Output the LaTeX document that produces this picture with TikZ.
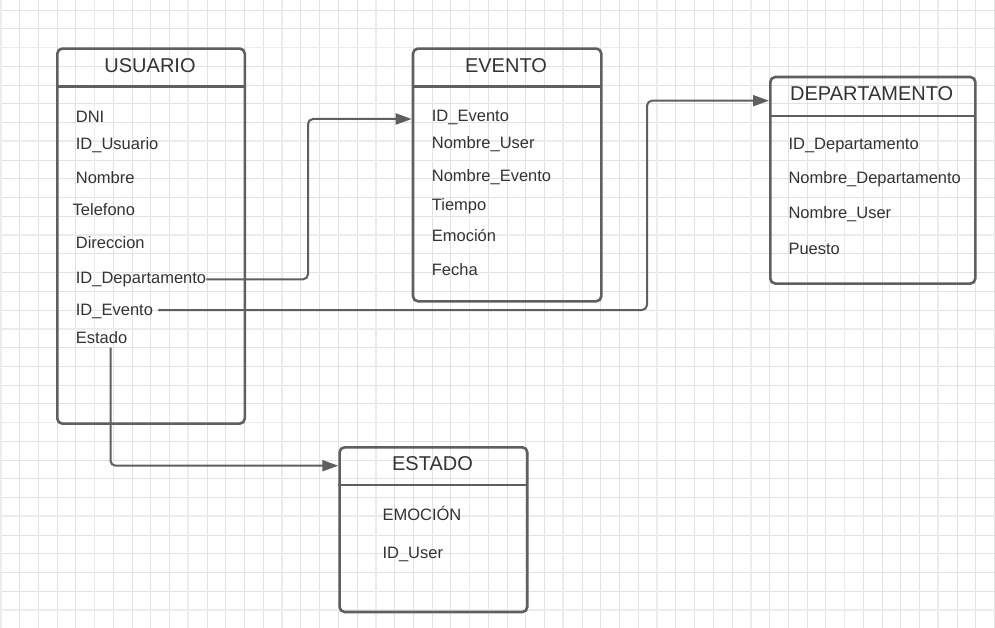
\documentclass[tikz,border=0pt]{standalone}
\usepackage{fontspec}
\setmainfont{Liberation Sans}
\usetikzlibrary{arrows.meta}
\definecolor{gridminor}{HTML}{E2E2E2}
\definecolor{gridmajor}{HTML}{ECECEC}
\definecolor{boxline}{HTML}{5F5F5F}
\definecolor{txt}{HTML}{333333}
\begin{document}
\begin{tikzpicture}[x=1pt,y=-1pt,
  minorgrid/.style={gridminor,line width=0.8pt},
  majorgrid/.style={gridmajor,line width=1.8pt},
  table/.style={draw=boxline,line width=2.6pt,rounded corners=5pt,rectangle,inner sep=0pt,anchor=north west},
  hdr/.style={draw=boxline,line width=2.6pt},
  title/.style={anchor=base,inner sep=0pt,text=txt,font=\fontsize{20}{24}\selectfont},
  field/.style={anchor=base west,inner sep=0pt,text=txt,font=\fontsize{16.5}{20}\selectfont},
  conn/.style={draw=boxline,line width=2pt,rounded corners=5pt},
  arr/.style={conn,-{Triangle[length=16pt,width=11pt]}}
]
\useasboundingbox (0,0) rectangle (995,628);
\fill[white] (0,0) rectangle (995,628);
% grid
\foreach \k in {0,...,53} \draw[minorgrid] (0.7+18.75*\k,0) -- (0.7+18.75*\k,628);
\foreach \k in {0,...,33} \draw[minorgrid] (0,10+18.75*\k) -- (995,10+18.75*\k);
\foreach \k in {0,5,...,50} \draw[majorgrid] (0.7+18.75*\k,0) -- (0.7+18.75*\k,628);
\foreach \k in {2,7,...,32} \draw[majorgrid] (0,10+18.75*\k) -- (995,10+18.75*\k);

% USUARIO
\node[table,minimum width=187.5pt,minimum height=375pt] (us) at (56,47.3) {};
\draw[hdr] (56,86.7) -- (243.5,86.7);
\node[title] (tus) at (150,72.3) {USUARIO};
\node[field] (udni) at (75.7,122.7) {DNI};
\node[field] (uid) at (75.7,150) {ID\_Usuario};
\node[field] (unom) at (75.7,183.3) {Nombre};
\node[field] (utel) at (72.5,216) {Telefono};
\node[field] (udir) at (75.7,249) {Direccion};
\node[field] (udep) at (75.7,283.3) {ID\_Departamento};
\node[field] (uev) at (75.7,315.7) {ID\_Evento};
\node[field] (uest) at (75.7,343.3) {Estado};

% EVENTO
\node[table,minimum width=188.3pt,minimum height=252.7pt] (ev) at (411.7,47.3) {};
\draw[hdr] (411.7,86.7) -- (600,86.7);
\node[title] (tev) at (506,72.3) {EVENTO};
\node[field] (eid) at (431.7,121.7) {ID\_Evento};
\node[field] (enu) at (431.7,149) {Nombre\_User};
\node[field] (ene) at (431.7,181.7) {Nombre\_Evento};
\node[field] (eti) at (431.7,210.7) {Tiempo};
\node[field] (eem) at (431.7,242) {Emoción};
\node[field] (efe) at (431.7,275.7) {Fecha};

% DEPARTAMENTO
\node[table,minimum width=205pt,minimum height=206.6pt] (dp) at (769,75.7) {};
\draw[hdr] (769,116) -- (974,116);
\node[title] (tdp) at (871.7,100.7) {DEPARTAMENTO};
\node[field] (did) at (788.3,150) {ID\_Departamento};
\node[field] (dnd) at (788.3,183.3) {Nombre\_Departamento};
\node[field] (dnu) at (788.3,219) {Nombre\_User};
\node[field] (dpu) at (788.3,254.3) {Puesto};

% ESTADO
\node[table,minimum width=187.7pt,minimum height=164.7pt] (es) at (338.3,446) {};
\draw[hdr] (338.3,485) -- (526,485);
\node[title] (tes) at (432.5,470.7) {ESTADO};
\node[field] (sem) at (382.3,520.7) {EMOCIÓN};
\node[field] (sid) at (382.3,558.3) {ID\_User};

% connectors
\coordinate (c1) at (308,119);
\draw[arr] (udep.east) -| (c1) -- (ev.west |- c1);
\coordinate (c2s) at (159.3,310);
\coordinate (c2) at (647,100.7);
\fill[boxline] (c2s) circle (1.4pt);
\draw[arr] (c2s) -| (c2) -- (dp.west |- c2);
\coordinate (c3s) at (110.5,347.7);
\coordinate (c3) at (110.5,465.7);
\draw[arr] (c3s) -- (c3) -- (es.west |- c3);
\end{tikzpicture}
\end{document}
